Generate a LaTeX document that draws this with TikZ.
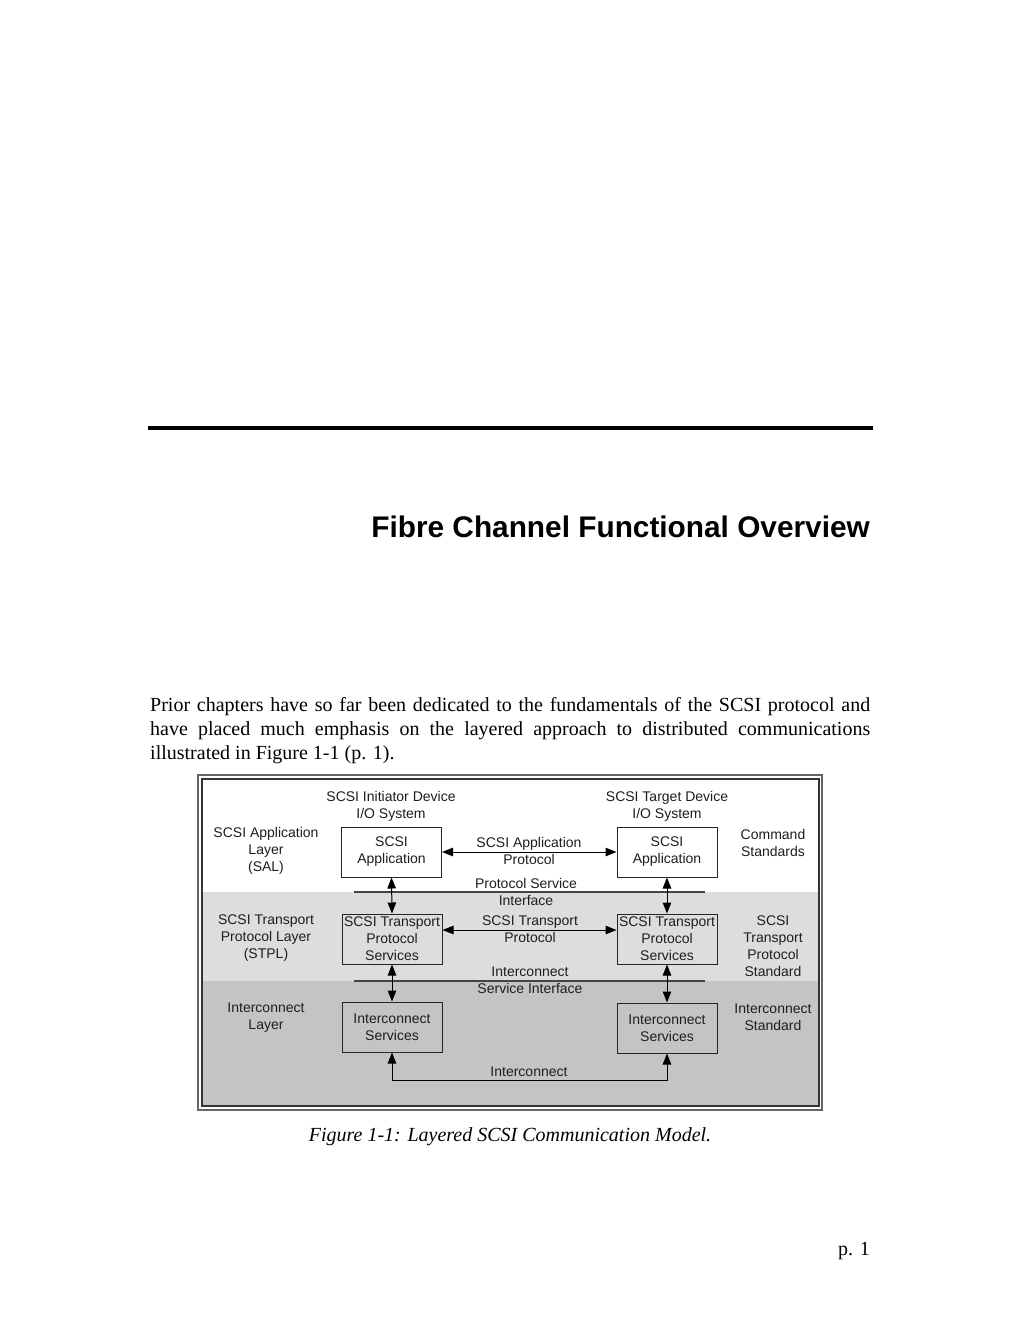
\documentclass[tikz,border=0pt]{standalone}
\usepackage{fontspec}
\setmainfont{Liberation Serif}
\newfontfamily\figfont{Liberation Sans}
\newfontfamily\titlefont{Liberation Sans}
\usetikzlibrary{arrows.meta}
\definecolor{bandlight}{HTML}{DDDDDD}
\definecolor{banddark}{HTML}{C4C4C4}
\definecolor{figtext}{HTML}{1E1E1E}
\definecolor{ifline}{HTML}{444444}
\begin{document}
\begin{tikzpicture}[x=1pt,y=-1pt,
  ftxt/.style={font=\figfont\fontsize{14}{17}\selectfont, text=figtext, align=center, inner sep=0pt},
  fbox/.style={ftxt, draw=black!85, line width=1pt, minimum width=100pt, minimum height=50pt},
  dblarrow/.style={draw=black, line width=1pt, {Triangle[length=11pt,width=8.5pt]}-{Triangle[length=11pt,width=8.5pt]}},
  ifaceline/.style={draw=ifline, line width=1.6pt},
  bodytxt/.style={font=\fontsize{20}{24}\selectfont, inner sep=0pt, anchor=base west}
]
\useasboundingbox (0,0) rectangle (1020,1320);
\fill[white] (0,0) rectangle (1020,1320);

% header rule and title
\coordinate (ruleL) at (148,428);
\coordinate (ruleR) at (873,428);
\draw[line width=3.5pt] (ruleL) -- (ruleR);
\node[font=\titlefont\bfseries\fontsize{29.8}{32}\selectfont, inner sep=0pt, anchor=base east] (title) at (870,537) {Fibre Channel Functional Overview};

% body paragraph
\node[bodytxt] (p1) at (150,711) {\makebox[720pt][s]{Prior chapters have so far been dedicated to the fundamentals of the SCSI protocol and}};
\node[bodytxt] (p2) at (150,735) {\makebox[720pt][s]{have placed much emphasis on the layered approach to distributed communications}};
\node[bodytxt] (p3) at (150,759) {illustrated in Figure 1-1 (p. 1).};

% figure frame and bands
\draw[draw=black!60, line width=1.5pt] (198,775) rectangle (822,1110);
\fill[white] (202,779) rectangle (819,892);
\fill[bandlight] (202,892) rectangle (819,981);
\fill[banddark] (202,981) rectangle (819,1106);
\draw[draw=black!80, line width=1.2pt] (202,779) rectangle (819,1106);

% boxes
\node[fbox] (lapp) at (391.5,852) {SCSI\\Application};
\node[fbox] (rapp) at (667,852) {SCSI\\Application};
\node[fbox] (ltr) at (392,939) {SCSI Transport\\Protocol\\Services};
\node[fbox] (rtr) at (667,939) {SCSI Transport\\Protocol\\Services};
\node[fbox] (lic) at (392,1027) {Interconnect\\Services};
\node[fbox] (ric) at (667,1028) {Interconnect\\Services};

% interface lines
\coordinate (psiL) at (354,892);
\coordinate (psiR) at (705,892);
\coordinate (isiL) at (354,981);
\coordinate (isiR) at (705,981);
\draw[ifaceline] (psiL) -- (psiR);
\draw[ifaceline] (isiL) -- (isiR);

% vertical arrows
\draw[dblarrow] (lapp.south) -- (ltr.north);
\draw[dblarrow] (ltr.south) -- (lic.north);
\draw[dblarrow] (rapp.south) -- (rtr.north);
\draw[dblarrow] (rtr.south) -- (ric.north);

% horizontal arrows
\draw[dblarrow] (lapp.east) -- (rapp.west);
\draw[dblarrow] ([yshift=9pt]ltr.east) -- ([yshift=9pt]rtr.west);
\draw[dblarrow] (lic.south) -- ++(0,28) -| (ric.south);

% labels
\node[ftxt] (tinit) at (391,806.5) {SCSI Initiator Device\\I/O System};
\node[ftxt] (ttarg) at (667,806.5) {SCSI Target Device\\I/O System};
\node[ftxt] (lsal) at (266,851) {SCSI Application\\Layer\\(SAL)};
\node[ftxt] (lstpl) at (266,938) {SCSI Transport\\Protocol Layer\\(STPL)};
\node[ftxt] (lil) at (266,1017.5) {Interconnect\\Layer};
\node[ftxt] (rcmd) at (773,842.5) {Command\\Standards};
\node[ftxt] (rstp) at (773,946.5) {SCSI\\Transport\\Protocol\\Standard};
\node[ftxt] (ris) at (773,1017.5) {Interconnect\\Standard};
\node[ftxt] (mapp) at (529,851) {SCSI Application\\Protocol};
\node[ftxt] (mpsi) at (526,891.5) {Protocol Service\\Interface};
\node[ftxt] (mtr) at (530,929.5) {SCSI Transport\\Protocol};
\node[ftxt] (misi) at (530,980.5) {Interconnect\\Service Interface};
\node[ftxt] (mic) at (529,1072) {Interconnect};

% caption and page number
\node[font=\itshape\fontsize{20}{24}\selectfont, inner sep=0pt, anchor=base] (cap) at (510,1141) {Figure 1-1: Layered SCSI Communication Model.};
\node[font=\fontsize{20}{24}\selectfont, inner sep=0pt, anchor=base east] (pg) at (870,1255) {p. 1};
\end{tikzpicture}
\end{document}
